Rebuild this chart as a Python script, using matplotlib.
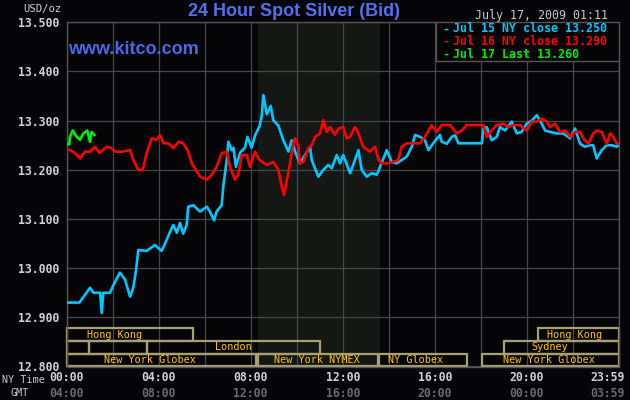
import matplotlib.pyplot as plt
from matplotlib.patches import Rectangle

# hours after 00:00 NY time, price in USD/oz
jul15_t = [0.0, 0.56, 1.02, 1.17, 1.46, 1.53, 1.60, 1.89, 2.03, 2.32, 2.54, 2.76, 2.90,
           3.02, 3.12, 3.48, 3.84, 4.13, 4.28, 4.50, 4.64, 4.79, 4.93, 5.07, 5.22, 5.29,
           5.51, 5.80, 6.09, 6.23, 6.41, 6.52, 6.74, 6.81, 6.96, 7.03, 7.18, 7.25, 7.36,
           7.54, 7.75, 7.86, 8.04, 8.19, 8.38, 8.48, 8.55, 8.70, 8.87, 8.98, 9.20, 9.42,
           9.64, 9.78, 9.93, 10.14, 10.36, 10.58, 10.65, 10.94, 11.16, 11.37, 11.52, 11.74,
           11.88, 12.02, 12.32, 12.53, 12.68, 12.82, 13.04, 13.26, 13.48, 13.62, 13.91,
           14.13, 14.34, 14.56, 14.78, 15.00, 15.14, 15.36, 15.57, 15.72, 15.93, 16.22,
           16.30, 16.52, 16.73, 16.88, 17.02, 18.04, 18.11, 18.25, 18.47, 18.69, 18.83,
           19.05, 19.34, 19.56, 19.77, 19.99, 20.21, 20.43, 20.64, 20.79, 21.00, 21.29,
           21.58, 21.87, 22.09, 22.31, 22.52, 22.74, 22.88, 23.03, 23.25, 23.47, 23.68,
           23.90, 24.0]
jul15_p = [12.930, 12.930, 12.960, 12.950, 12.950, 12.909, 12.950, 12.950, 12.965, 12.991,
           12.977, 12.942, 12.960, 12.996, 13.037, 13.035, 13.047, 13.035, 13.050, 13.074,
           13.088, 13.072, 13.092, 13.070, 13.088, 13.125, 13.128, 13.115, 13.125, 13.115,
           13.097, 13.115, 13.128, 13.166, 13.220, 13.257, 13.240, 13.245, 13.206, 13.235,
           13.245, 13.267, 13.245, 13.270, 13.288, 13.308, 13.352, 13.313, 13.330, 13.301,
           13.290, 13.260, 13.237, 13.260, 13.237, 13.213, 13.230, 13.247, 13.220, 13.186,
           13.200, 13.210, 13.203, 13.230, 13.213, 13.230, 13.193, 13.220, 13.240, 13.200,
           13.186, 13.193, 13.190, 13.206, 13.240, 13.216, 13.213, 13.220, 13.227, 13.247,
           13.271, 13.267, 13.260, 13.240, 13.254, 13.271, 13.257, 13.253, 13.267, 13.270,
           13.254, 13.254, 13.284, 13.287, 13.260, 13.267, 13.287, 13.280, 13.298, 13.274,
           13.277, 13.294, 13.300, 13.311, 13.294, 13.280, 13.277, 13.274, 13.274, 13.264,
           13.284, 13.253, 13.247, 13.250, 13.250, 13.223, 13.240, 13.250, 13.250, 13.247,
           13.250]

jul16_t = [0.0, 0.15, 0.37, 0.59, 0.80, 1.02, 1.24, 1.43, 1.75, 1.96, 2.11, 2.40, 2.76,
           2.90, 3.12, 3.31, 3.48, 3.70, 3.92, 4.06, 4.21, 4.42, 4.64, 4.86, 5.07, 5.29,
           5.44, 5.58, 5.80, 5.94, 6.09, 6.31, 6.52, 6.74, 6.96, 7.10, 7.32, 7.46, 7.61,
           7.83, 7.97, 8.19, 8.38, 8.70, 8.98, 9.20, 9.35, 9.45, 9.57, 9.71, 9.85, 9.93,
           10.07, 10.14, 10.29, 10.50, 10.65, 10.80, 11.01, 11.16, 11.30, 11.45, 11.66,
           11.81, 12.02, 12.17, 12.32, 12.53, 12.68, 12.89, 13.18, 13.40, 13.55, 13.69,
           13.91, 14.20, 14.41, 14.56, 14.78, 15.36, 15.57, 15.86, 16.08, 16.30, 16.66,
           16.95, 17.17, 17.38, 18.11, 18.25, 18.47, 18.69, 18.98, 19.19, 19.41, 19.70,
           19.99, 20.21, 20.43, 20.64, 20.86, 21.00, 21.22, 21.44, 21.66, 21.87, 22.09,
           22.31, 22.45, 22.67, 22.88, 23.03, 23.25, 23.47, 23.61, 23.75, 23.90, 24.0]
jul16_p = [13.242, 13.240, 13.234, 13.223, 13.237, 13.237, 13.247, 13.234, 13.247, 13.244,
           13.237, 13.237, 13.240, 13.220, 13.200, 13.200, 13.234, 13.264, 13.261, 13.271,
           13.254, 13.254, 13.244, 13.257, 13.254, 13.237, 13.213, 13.203, 13.186, 13.183,
           13.180, 13.190, 13.206, 13.234, 13.237, 13.206, 13.180, 13.190, 13.230, 13.230,
           13.206, 13.237, 13.220, 13.210, 13.216, 13.200, 13.166, 13.149, 13.179, 13.213,
           13.254, 13.264, 13.247, 13.213, 13.216, 13.244, 13.250, 13.267, 13.274, 13.301,
           13.277, 13.287, 13.271, 13.284, 13.287, 13.264, 13.267, 13.287, 13.274, 13.247,
           13.237, 13.247, 13.220, 13.213, 13.213, 13.216, 13.220, 13.247, 13.254, 13.254,
           13.267, 13.291, 13.277, 13.291, 13.291, 13.274, 13.280, 13.291, 13.291, 13.267,
           13.280, 13.291, 13.294, 13.287, 13.291, 13.291, 13.280, 13.298, 13.298, 13.304,
           13.298, 13.287, 13.294, 13.277, 13.280, 13.267, 13.277, 13.277, 13.264, 13.253,
           13.274, 13.280, 13.277, 13.253, 13.274, 13.267, 13.253, 13.253]

jul17_t = [0.0, 0.12, 0.15, 0.27, 0.44, 0.59, 0.73, 0.90, 1.02, 1.09, 1.21]
jul17_p = [13.252, 13.252, 13.267, 13.280, 13.267, 13.261, 13.274, 13.280, 13.257, 13.277,
           13.271]

legend_labels = ['Jul 15 NY close 13.250', 'Jul 16 NY close 13.290', 'Jul 17 Last 13.260']
colors = ['#00c8ff', '#ff0000', '#00ee00']

price_ticks = [12.8, 12.9, 13.0, 13.1, 13.2, 13.3, 13.4, 13.5]
ny_hours = [0, 4, 8, 12, 16, 20, 23.5]
ny_labels = ['00:00', '04:00', '08:00', '12:00', '16:00', '20:00', '23:59']
gmt_labels = ['04:00', '08:00', '12:00', '16:00', '20:00', '00:00', '03:59']

# market sessions: row, start hour, end hour, label, label hour
sessions = [
    (0, 0.0, 5.5, 'Hong Kong', 2.1),
    (0, 20.5, 24.0, 'Hong Kong', 22.05),
    (1, 0.0, 0.98, '', 0),
    (1, 0.98, 3.5, '', 0),
    (1, 3.5, 11.0, 'London', 7.23),
    (1, 19.0, 24.0, 'Sydney', 20.98),
    (2, 0.0, 8.25, 'New York Globex', 3.63),
    (2, 8.33, 13.53, 'New York NYMEX', 10.88),
    (2, 13.57, 17.4, 'NY Globex', 15.18),
    (2, 18.05, 24.0, 'New York Globex', 20.96),
]
nymex_open, nymex_close = 8.33, 13.57

fig = plt.figure(figsize=(6.3, 4.0), dpi=100, facecolor='#050508')
ax = fig.add_axes([66.5/630, 1-366.5/400, (619-66.5)/630, (366.5-22.3)/400])
ax.set_facecolor('#050508')
ax.set_xlim(0, 24)
ax.set_ylim(12.8, 13.5)

ax.axvspan(nymex_open, nymex_close, color='#141714', zorder=0)

ax.set_xticks(range(0, 25, 2))
ax.set_yticks(price_ticks)
ax.set_yticklabels(['%.3f' % p for p in price_ticks])
ax.grid(True, color='#474747', linewidth=0.9, zorder=1)
ax.tick_params(length=0, labelbottom=False, pad=5)
for lab in ax.get_yticklabels():
    lab.set_fontfamily('DejaVu Sans Mono')
    lab.set_fontweight('bold')
    lab.set_fontsize(8.3)
    lab.set_color('#d0d0d0')
for s in ax.spines.values():
    s.set_color('#555555')
    s.set_linewidth(1)

row_h = 0.026
for row, a, b, name, lx in sessions:
    y0 = 12.8 + (2 - row) * row_h
    ax.add_patch(Rectangle((a, y0), b - a, row_h, fill=False, edgecolor='#a8a070',
                           linewidth=1.6, zorder=2, clip_on=False))
    if name:
        ax.text(lx, y0 + row_h / 2, name, ha='center', va='center', color='#ffc800',
                fontsize=7.3, family='DejaVu Sans Mono', zorder=3)

for t, p, c in [(jul15_t, jul15_p, colors[0]), (jul16_t, jul16_p, colors[1]),
                (jul17_t, jul17_p, colors[2])]:
    ax.plot(t, p, color=c, linewidth=1.9, zorder=4)

# legend box
ax.add_patch(Rectangle(((436-66.5)/552.5, (366.5-61)/344.2), (619-436)/552.5, 39/344.2,
                       transform=ax.transAxes, facecolor='#050508', edgecolor='#555555',
                       linewidth=1, zorder=5))
for i, (lab, c) in enumerate(zip(legend_labels, colors)):
    yy = (366.5 - (29 + 12.5 * i)) / 344.2
    ax.text((442-66.5)/552.5, yy, '-', color=c, fontsize=8.4, fontweight='bold',
            family='DejaVu Sans Mono', va='center', transform=ax.transAxes, zorder=6)
    ax.text((453-66.5)/552.5, yy, lab, color=c, fontsize=8.4, fontweight='bold',
            family='DejaVu Sans Mono', va='center', transform=ax.transAxes, zorder=6)

xt = ax.get_xaxis_transform()
for h, ny, gmt in zip(ny_hours, ny_labels, gmt_labels):
    ax.text(h, -0.033, ny, ha='center', va='center', color='#d0d0d0', fontsize=8.3,
            fontweight='bold', family='DejaVu Sans Mono', transform=xt)
    ax.text(h, -0.077, gmt, ha='center', va='center', color='#6a6a6a', fontsize=8.3,
            fontweight='bold', family='DejaVu Sans Mono', transform=xt)

fig.text(45/630, 1-380/400, 'NY Time', ha='right', va='center', color='#c8c8c8',
         fontsize=7.3, family='DejaVu Sans Mono')
fig.text(29/630, 1-393/400, 'GMT', ha='right', va='center', color='#c8c8c8',
         fontsize=7.3, family='DejaVu Sans Mono')
fig.text(62/630, 1-9/400, 'USD/oz', ha='right', va='center', color='#d0d0d0',
         fontsize=7.6, family='DejaVu Sans Mono')
fig.text(294/630, 1-11/400, '24 Hour Spot Silver (Bid)', ha='center', va='center',
         color='#5070f0', fontsize=13, fontweight='bold', family='Liberation Sans')
fig.text(68/630, 1-50/400, 'www.kitco.com', ha='left', va='center',
         color='#4a68e8', fontsize=13, fontweight='bold', family='Liberation Sans')
fig.text(608/630, 1-15/400, 'July 17, 2009 01:11', ha='right', va='center',
         color='#c8c8c8', fontsize=8.4, family='DejaVu Sans Mono')

fig.savefig('out.png', dpi=100, facecolor=fig.get_facecolor())
